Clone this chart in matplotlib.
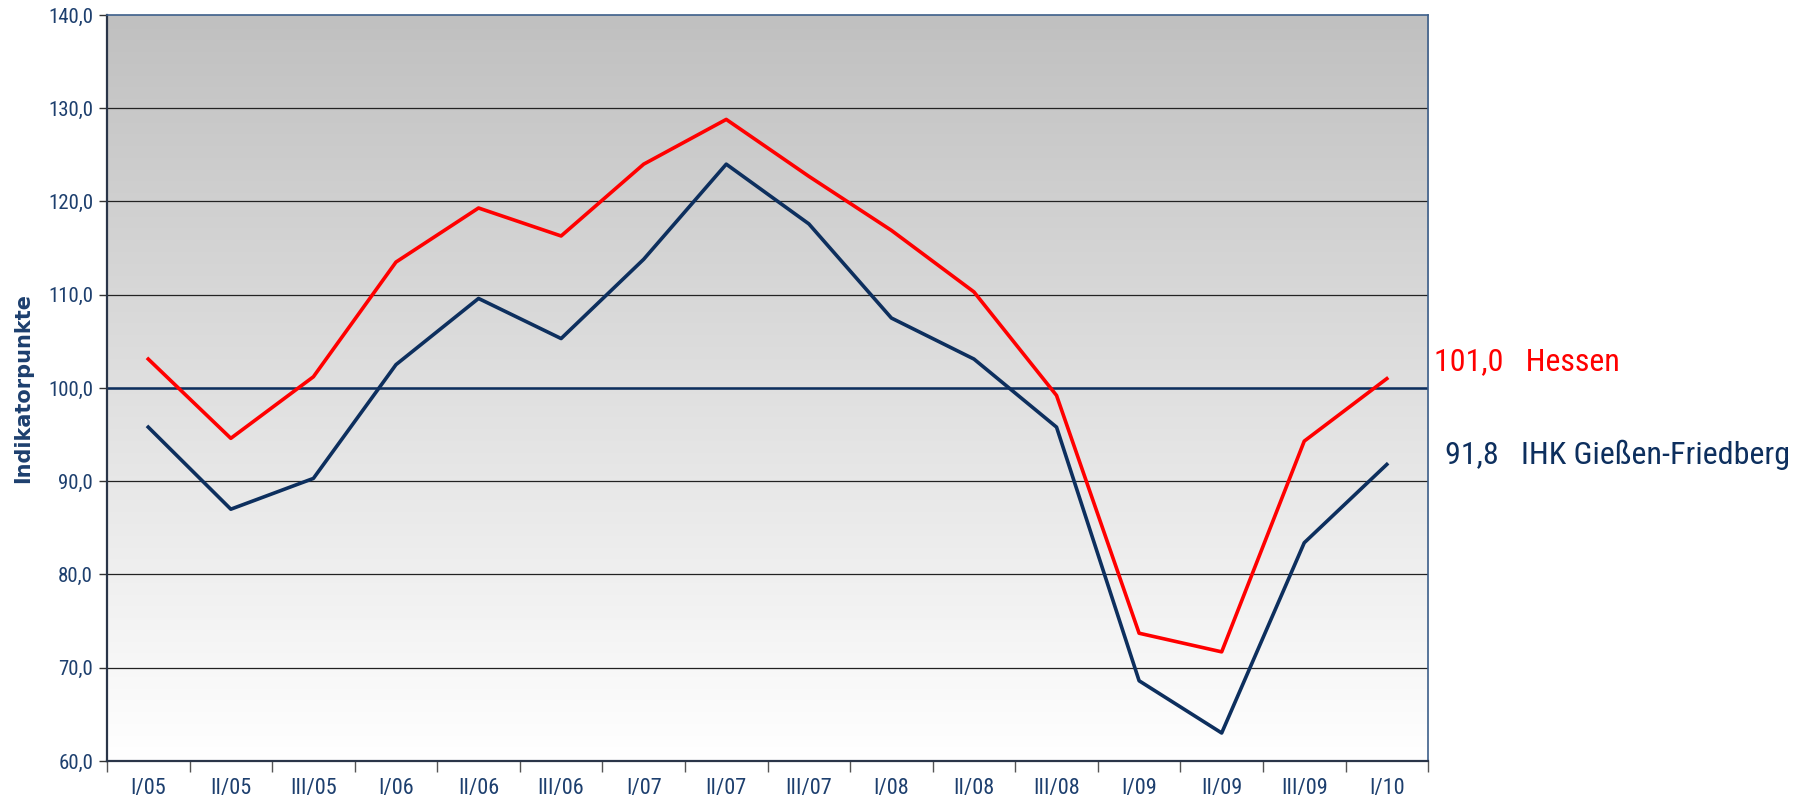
import matplotlib
matplotlib.use("Agg")
import matplotlib.pyplot as plt
from matplotlib import font_manager
from matplotlib.colors import LinearSegmentedColormap
import numpy as np

# Quartale
quartale = ["I/05", "II/05", "III/05", "I/06", "II/06", "III/06", "I/07", "II/07",
            "III/07", "I/08", "II/08", "III/08", "I/09", "II/09", "III/09", "I/10"]

# Indikatorwerte
hessen = [103.1, 94.6, 101.2, 113.5, 119.3, 116.3, 124.0, 128.8,
          122.7, 116.9, 110.3, 99.2, 73.7, 71.7, 94.3, 101.0]
ihk = [95.8, 87.0, 90.3, 102.5, 109.6, 105.3, 113.8, 124.0,
       117.6, 107.5, 103.1, 95.8, 68.6, 63.0, 83.4, 91.8]

y_ticks = [60, 70, 80, 90, 100, 110, 120, 130, 140]
referenz = 100.0

rot = "#ff0000"
blau = "#0d2f5e"
textblau = "#1d3f6e"


def schmale_schrift():
    # schmale Schrift suchen, sonst Roboto
    for fam in ['Roboto Condensed', 'Liberation Sans Narrow', 'Open Sans Condensed']:
        try:
            font_manager.findfont(font_manager.FontProperties(family=fam),
                                  fallback_to_default=False)
            return fam, 'normal'
        except ValueError:
            pass
    pfad = font_manager.findfont(font_manager.FontProperties(family='DejaVu Sans',
                                                             stretch='condensed'))
    if 'Condensed' in pfad:
        return 'DejaVu Sans', 'condensed'
    return 'Roboto', 'normal'


fam, stretch = schmale_schrift()
plt.rcParams['font.family'] = [fam, 'DejaVu Sans']
plt.rcParams['font.stretch'] = stretch

fig = plt.figure(figsize=(18.13, 8.05), dpi=100)
ax = fig.add_axes([0.059, 0.0547, 0.7287, 0.9267])

n = len(quartale)
x = np.arange(n) + 0.5

# Hintergrund mit Verlauf (grau oben, weiss unten)
cmap = LinearSegmentedColormap.from_list("bg", ["#c0c0c0", "#ffffff"])
grad = np.linspace(0, 1, 256).reshape(-1, 1)
ax.imshow(grad, extent=[0, n, 60, 140], aspect='auto', cmap=cmap,
          vmin=0, vmax=1, origin='upper', zorder=0)

for yv in y_ticks[1:-1]:
    ax.axhline(yv, color="#222222", lw=0.9, zorder=1)

ax.axhline(referenz, color=blau, lw=1.8, zorder=2)

ax.plot(x, hessen, color=rot, lw=2.6, zorder=3)
ax.plot(x, ihk, color=blau, lw=2.6, zorder=3)

ax.set_xlim(0, n)
ax.set_ylim(60, 140)

ax.set_yticks(y_ticks)
ax.set_yticklabels([f"{v:.1f}".replace(".", ",") for v in y_ticks],
                   color=textblau, fontsize=15)
ax.tick_params(axis='y', direction='out', length=6, width=1, color="#333333", pad=4)

ax.set_xticks(np.arange(n + 1))
ax.set_xticklabels([])
ax.set_xticks(x, minor=True)
ax.set_xticklabels(quartale, minor=True, color=textblau, fontsize=16)
ax.tick_params(axis='x', which='major', direction='out', length=8, width=1, color="#555555")
ax.tick_params(axis='x', which='minor', length=0, pad=12)

ax.set_ylabel("Indikatorpunkte", color=textblau, fontsize=15, fontweight='bold',
              family=['DejaVu Sans'], stretch=stretch)
ax.yaxis.set_label_coords(-0.056, 0.5)

for side in ['left', 'bottom']:
    ax.spines[side].set_color("#2a3548")
    ax.spines[side].set_linewidth(1.6)
for side in ['top', 'right']:
    ax.spines[side].set_color("#3d5f8a")
    ax.spines[side].set_linewidth(1.2)

# Endwerte rechts
ax.text(n + 0.07, 102.8, f"{hessen[-1]:.1f}".replace(".", ",") + "   Hessen",
        color=rot, fontsize=23, va='center', ha='left', clip_on=False)
ax.text(n + 0.2, 92.8, f"{ihk[-1]:.1f}".replace(".", ",") + "   IHK Gießen-Friedberg",
        color=blau, fontsize=23, va='center', ha='left', clip_on=False)

fig.savefig("out.png", dpi=100)
